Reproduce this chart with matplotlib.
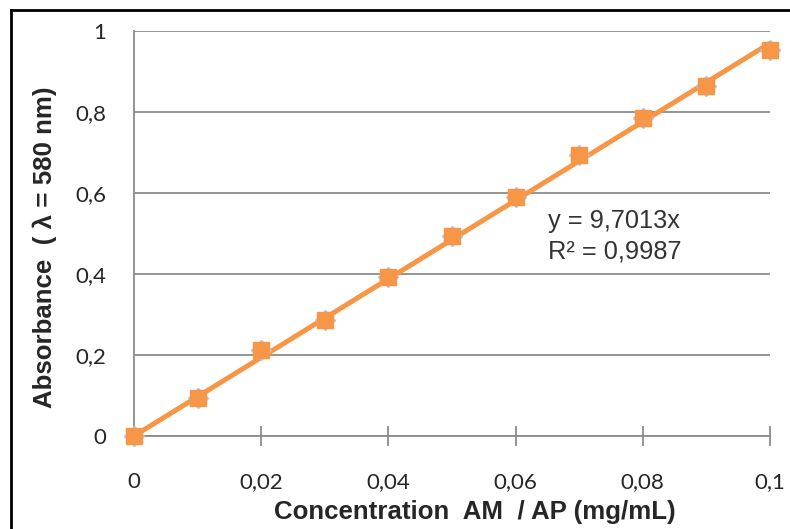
import matplotlib
matplotlib.use("Agg")
import matplotlib.pyplot as plt
from matplotlib.lines import Line2D
import numpy as np

# Calibration data: concentration (mg/mL) vs absorbance at 580 nm
concentration = [0.00, 0.01, 0.02, 0.03, 0.04, 0.05, 0.06, 0.07, 0.08, 0.09, 0.10]
absorbance = [0.000, 0.095, 0.212, 0.287, 0.393, 0.495, 0.591, 0.693, 0.785, 0.865, 0.954]

# Linear trendline forced through the origin
slope = 9.7013
r_squared = 0.9987
equation_label = "y = 9,7013x"
r2_label = "R² = 0,9987"

x_ticks = [0.0, 0.02, 0.04, 0.06, 0.08, 0.10]
x_tick_labels = ["0", "0,02", "0,04", "0,06", "0,08", "0,1"]
y_ticks = [0.0, 0.2, 0.4, 0.6, 0.8, 1.0]
y_tick_labels = ["0", "0,2", "0,4", "0,6", "0,8", "1"]

x_title = "Concentration  AM  / AP (mg/mL)"
y_title = "Absorbance  ( λ = 580 nm)"

ORANGE = "#F79646"
GRID = "#8C8C8C"
TEXT = "#262626"

W, H = 790, 529
fig = plt.figure(figsize=(W / 100, H / 100), dpi=100)
fig.patch.set_facecolor("white")

# plot area in pixel terms: left 134, right 770, top 31, bottom 436
ax = fig.add_axes([134 / W, 1 - 436 / H, 636 / W, 405 / H])
ax.set_xlim(0, 0.1)
ax.set_ylim(0, 1)

ax.set_yticks(y_ticks)
ax.set_yticklabels(y_tick_labels)
ax.set_xticks(x_ticks)
ax.set_xticklabels(x_tick_labels)
ax.yaxis.grid(True, color=GRID, linewidth=1.3)
ax.set_axisbelow(True)

for side in ("top", "right"):
    ax.spines[side].set_visible(False)
for side in ("left", "bottom"):
    ax.spines[side].set_color(GRID)
    ax.spines[side].set_linewidth(1.3)

ax.tick_params(axis="x", direction="inout", length=14, width=1.3, color=GRID, pad=19)
ax.tick_params(axis="y", length=0, pad=20)
for lbl in ax.get_xticklabels() + ax.get_yticklabels():
    lbl.set_fontfamily(["Lato", "DejaVu Sans"])
    lbl.set_fontsize(16)
    lbl.set_color(TEXT)

# trendline
xs = np.array([0.0, 0.1])
ax.plot(xs, slope * xs, color=ORANGE, linewidth=3.6, solid_capstyle="butt",
        zorder=3, clip_on=False)

# data markers (blue diamond beneath orange square)
ax.plot(concentration, absorbance, linestyle="none", marker="D", markersize=10.2,
        markerfacecolor="#B3C4DE", markeredgecolor="#B3C4DE", zorder=4, clip_on=False)
ax.plot(concentration, absorbance, linestyle="none", marker="s", markersize=11.5,
        markerfacecolor=ORANGE, markeredgecolor=ORANGE, zorder=5, clip_on=False)

# trendline equation
eq_font = dict(family=["Liberation Sans", "DejaVu Sans"], size=18.3, color="#333333")
ax.text((548 - 134) / 636, (436 - 228) / 405, equation_label, transform=ax.transAxes,
        ha="left", va="baseline", **eq_font)
ax.text((548 - 134) / 636, (436 - 258) / 405, r2_label, transform=ax.transAxes,
        ha="left", va="baseline", **eq_font)

# axis titles
title_font = dict(family=["Liberation Sans", "DejaVu Sans"], size=18.6, weight="bold", color=TEXT)
ax.set_xlabel(x_title, **title_font)
ax.xaxis.set_label_coords((475 - 134) / 636, (436 - 512) / 405)
ax.xaxis.label.set_va("center")
ax.set_ylabel(y_title, **title_font)
ax.yaxis.set_label_coords((45 - 134) / 636, (436 - 247) / 405)
ax.yaxis.label.set_va("center")

# frame border on the left and top edges
fig.add_artist(Line2D([11 / W, 11 / W], [0, 1 - 10 / H], transform=fig.transFigure,
                      color="black", linewidth=2.0, solid_capstyle="projecting"))
fig.add_artist(Line2D([11 / W, 1], [1 - 10 / H, 1 - 10 / H], transform=fig.transFigure,
                      color="black", linewidth=2.0, solid_capstyle="projecting"))

fig.savefig("out.png", dpi=100, facecolor="white")
